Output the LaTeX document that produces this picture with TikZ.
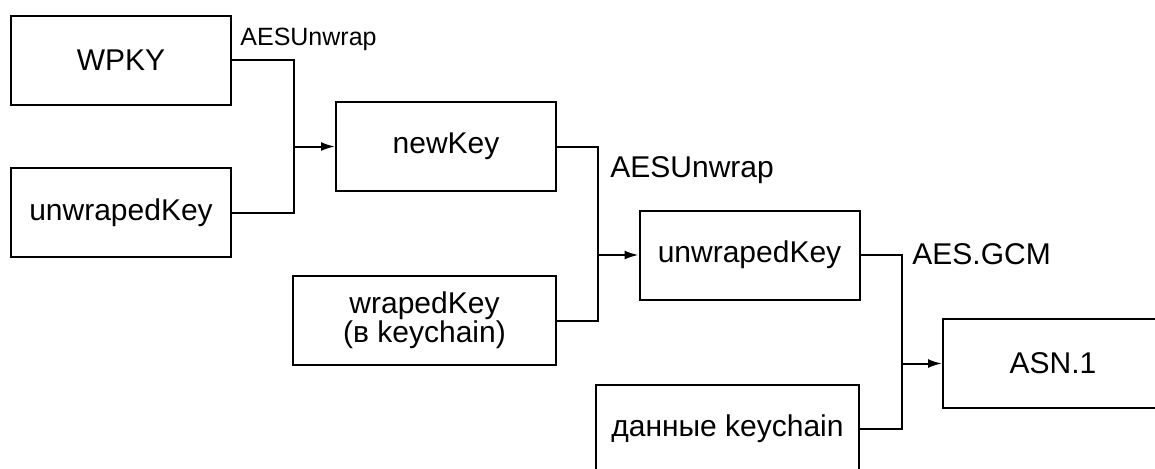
\documentclass[tikz,border=0pt]{standalone}
\usepackage{fontspec}
\setmainfont{Liberation Sans}
\usetikzlibrary{arrows.meta}

\tikzset{
	keybox/.style={draw, line width=1pt, minimum width=110pt, minimum height=44.5pt,
		inner sep=0pt, align=center, font=\fontsize{15}{14.5}\selectfont},
	widebox/.style={keybox, minimum width=131.5pt},
	oplabel/.style={anchor=base west, inner sep=0pt, font=\fontsize{15}{18}\selectfont},
	flow/.style={line width=1pt},
	feed/.style={flow, -{Latex[length=7pt,width=4.5pt]}}
}

\begin{document}
\begin{tikzpicture}[x=0.5pt, y=-0.5pt]
		\useasboundingbox (0,0) rectangle (1155,468);
		\clip (0,0) rectangle (1155,468);
		
		% First stage: WPKY and unwrapedKey give newKey
		\node[keybox] (wpky) at (121,60) {WPKY};
		\node[keybox] (unwrapA) at (121,212.5) {unwrapedKey};
		\node[keybox] (newkey) at (446,146.5) {newKey};
		\coordinate (joinA) at (294,146.5);
		\draw[flow] (wpky.east) -| (joinA) |- (unwrapA.east);
		\draw[feed] (joinA) -- (newkey.west);
		\node[oplabel, font=\fontsize{12.5}{15}\selectfont] (opA) at (240,45) {AESUnwrap};
		
		% Second stage: newKey and wrapedKey give unwrapedKey
		\node[widebox] (wraped) at (424.5,320.5) {wrapedKey\\(в keychain)};
		\node[keybox] (unwrapB) at (749.5,255) {unwrapedKey};
		\coordinate (joinB) at (598,255);
		\draw[flow] (newkey.east) -| (joinB) |- (wraped.east);
		\draw[feed] (joinB) -- (unwrapB.west);
		\node[oplabel] (opB) at (610,177) {AESUnwrap};
		
		% Third stage: unwrapedKey and keychain data give ASN.1
		\node[widebox] (data) at (727.5,429) {данные keychain};
		\node[keybox] (asn) at (1053,363.5) {ASN.1};
		\coordinate (joinC) at (902,363.5);
		\draw[flow] (unwrapB.east) -| (joinC) |- (data.east);
		\draw[feed] (joinC) -- (asn.west);
		\node[oplabel] (opC) at (912,264) {AES.GCM};
	\end{tikzpicture}
\end{document}
